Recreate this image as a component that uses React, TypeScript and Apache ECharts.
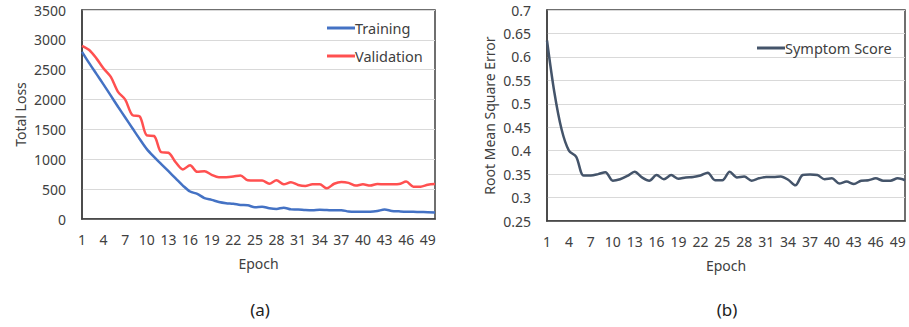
import React, { useEffect, useRef } from "react";
import * as echarts from "echarts";

const epochs: string[] = Array.from({ length: 50 }, (_, i) => String(i + 1));

const trainingLoss: number[] = [
  2800, 2610, 2430, 2250, 2065, 1880, 1700, 1520, 1340, 1170,
  1040, 920, 800, 680, 560, 460, 420, 350, 320, 285,
  265, 255, 235, 230, 196, 207, 180, 168, 190, 162,
  160, 150, 145, 155, 150, 145, 148, 125, 120, 122,
  123, 135, 157, 135, 128, 122, 120, 117, 115, 110,
];

const validationLoss: number[] = [
  2900, 2830, 2690, 2520, 2380, 2130, 2000, 1740, 1720, 1400,
  1390, 1120, 1110, 950, 830, 900, 790, 800, 740, 700,
  700, 710, 730, 650, 645, 645, 590, 648, 580, 615,
  570, 553, 580, 580, 514, 590, 620, 605, 560, 581,
  559, 587, 580, 583, 587, 626, 542, 542, 575, 587,
];

const symptomRmse: number[] = [
  0.635, 0.525, 0.445, 0.4, 0.387, 0.347, 0.347, 0.35, 0.354, 0.336,
  0.339, 0.346, 0.355, 0.343, 0.336, 0.348, 0.339, 0.348, 0.34, 0.343,
  0.344, 0.347, 0.353, 0.337, 0.337, 0.355, 0.343, 0.345, 0.336, 0.341,
  0.344, 0.344, 0.345, 0.338, 0.326, 0.348, 0.349, 0.348, 0.339, 0.341,
  0.33, 0.334, 0.329, 0.336, 0.337, 0.341, 0.336, 0.336, 0.341, 0.337,
];

const FONT = "Noto Sans";
const TXT = "#404040";

export default function App() {
  const ref = useRef<HTMLDivElement>(null);
  useEffect(() => {
    if (!ref.current) return;
    const chart = echarts.init(ref.current, undefined, { renderer: "svg" });
    const xAxisBase = (gridIndex: number) => ({
      type: "category" as const,
      gridIndex,
      data: epochs,
      boundaryGap: false,
      axisTick: { show: false },
      axisLine: { show: true, lineStyle: { color: "#404040", width: 1.5 } },
      axisLabel: { interval: 2, margin: 13, color: TXT, fontSize: 14, fontFamily: FONT },
      name: "Epoch",
      nameLocation: "middle" as const,
      nameGap: 37,
      nameTextStyle: { color: TXT, fontSize: 14, fontFamily: FONT },
      splitLine: { show: false },
    });
    chart.setOption({
      animation: false,
      grid: [
        { left: 82, top: 10, width: 353, height: 209, show: true, borderColor: "#404040", borderWidth: 1.5 },
        { left: 547, top: 10, width: 358, height: 211, show: true, borderColor: "#404040", borderWidth: 1.5 },
      ],
      xAxis: [xAxisBase(0), xAxisBase(1)],
      yAxis: [
        {
          type: "value",
          gridIndex: 0,
          min: 0,
          max: 3500,
          interval: 500,
          axisLine: { show: true, lineStyle: { color: "#404040", width: 1.5 } },
          axisTick: { show: false },
          axisLabel: {
            margin: 16,
            color: TXT,
            fontSize: 14,
            fontFamily: FONT,
            formatter: (v: number) => String(v),
          },
          splitLine: { lineStyle: { color: "#d9d9d9", width: 1 } },
          name: "Total Loss",
          nameLocation: "middle",
          nameGap: 55,
          nameTextStyle: { color: TXT, fontSize: 14, fontFamily: FONT },
        },
        {
          type: "value",
          gridIndex: 1,
          min: 0.25,
          max: 0.7,
          interval: 0.05,
          axisLine: { show: true, lineStyle: { color: "#404040", width: 1.5 } },
          axisTick: { show: false },
          axisLabel: {
            margin: 16,
            color: TXT,
            fontSize: 14,
            fontFamily: FONT,
            formatter: (v: number) => String(parseFloat(v.toFixed(2))),
          },
          splitLine: { lineStyle: { color: "#d9d9d9", width: 1 } },
          name: "Root Mean Square Error",
          nameLocation: "middle",
          nameGap: 51,
          nameTextStyle: { color: TXT, fontSize: 14, fontFamily: FONT },
        },
      ],
      legend: [
        {
          data: ["Training", "Validation"],
          orient: "vertical",
          left: 327,
          top: 19,
          padding: 0,
          itemWidth: 28,
          itemHeight: 3,
          itemGap: 10,
          icon: "rect",
          textStyle: { color: TXT, fontSize: 14.5, fontFamily: FONT, lineHeight: 18, padding: [0, 0, 0, -5] },
        },
        {
          data: ["Symptom Score"],
          orient: "vertical",
          left: 757,
          top: 39,
          padding: 0,
          itemWidth: 28,
          itemHeight: 3,
          icon: "rect",
          textStyle: { color: TXT, fontSize: 14.5, fontFamily: FONT, lineHeight: 18, padding: [0, 0, 0, -5] },
        },
      ],
      series: [
        {
          name: "Training",
          type: "line",
          xAxisIndex: 0,
          yAxisIndex: 0,
          data: trainingLoss,
          showSymbol: false,
          symbol: "none",
          smooth: 0.3,
          lineStyle: { color: "#4472C4", width: 2.5 },
          itemStyle: { color: "#4472C4" },
        },
        {
          name: "Validation",
          type: "line",
          xAxisIndex: 0,
          yAxisIndex: 0,
          data: validationLoss,
          showSymbol: false,
          symbol: "none",
          smooth: 0.3,
          lineStyle: { color: "#FF5050", width: 2.5 },
          itemStyle: { color: "#FF5050" },
        },
        {
          name: "Symptom Score",
          type: "line",
          xAxisIndex: 1,
          yAxisIndex: 1,
          data: symptomRmse,
          showSymbol: false,
          symbol: "none",
          smooth: 0.3,
          lineStyle: { color: "#44546A", width: 2.5 },
          itemStyle: { color: "#44546A" },
        },
      ],
      graphic: [
        { type: "text", x: 260, y: 309, style: { text: "(a)", fill: "#222", fontSize: 17, fontFamily: FONT, align: "center", verticalAlign: "middle" } },
        { type: "text", x: 727, y: 309, style: { text: "(b)", fill: "#222", fontSize: 17, fontFamily: FONT, align: "center", verticalAlign: "middle" } },
      ],
    });
    return () => chart.dispose();
  }, []);
  return (
    <div
      ref={ref}
      style={{ position: "fixed", left: 0, top: 0, width: 909, height: 327, background: "#fff" }}
    />
  );
}
